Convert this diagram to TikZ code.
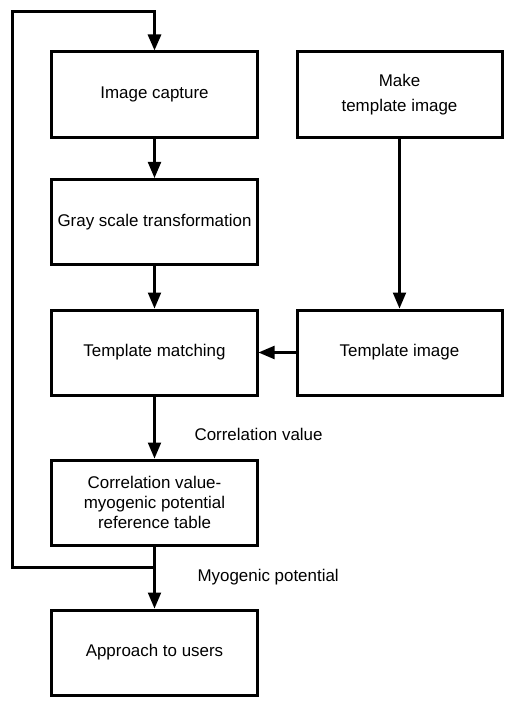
\documentclass[tikz,border=0pt]{standalone}
\usepackage{fontspec}
\setmainfont{Liberation Sans}
\usetikzlibrary{arrows.meta}

\begin{document}
\begin{tikzpicture}[x=1bp,y=-1bp,
	box/.style={draw,line width=3bp,minimum width=205bp,minimum height=85bp,align=center,inner sep=0pt,font=\fontsize{17}{20}\selectfont},
	flow/.style={line width=2.2bp,-{Triangle[length=16bp,width=13bp]}},
	lbl/.style={anchor=west,font=\fontsize{17}{20}\selectfont}]
	\useasboundingbox (0,0) rectangle (515,711);
	\node[box] (capture) at (154.5,94.5) {Image capture};
	\node[box] (gray) at (154.5,222) {Gray scale transformation};
	\node[box] (match) at (154.5,352.5) {Template matching};
	\node[box] (table) at (154.5,502.5) {Correlation value-\\myogenic potential\\reference table};
	\node[box] (users) at (154.5,652.5) {Approach to users};
	\node[box] (make) at (399.5,94.5) {Make\\[5bp]template image};
	\node[box] (tmpl) at (399.5,352.5) {Template image};
	\draw[flow] (capture) -- (gray);
	\draw[flow] (gray) -- (match);
	\draw[flow] (match) -- (table);
	\node[lbl] (corrlbl) at (191,434) {Correlation value};
	\draw[flow] (table) -- (users);
	\node[lbl] (myolbl) at (194,577) {Myogenic potential};
	\draw[flow] (make) -- (tmpl);
	\draw[flow] (tmpl) -- (match);
	% feedback from the table back to the capture
	\coordinate (loopb) at (12,567);
	\coordinate (loopt) at (12,12);
	\draw[flow,line width=3bp] (table.south |- loopb) -- (loopb) -- (loopt) -| (capture.north);
\end{tikzpicture}
\end{document}
